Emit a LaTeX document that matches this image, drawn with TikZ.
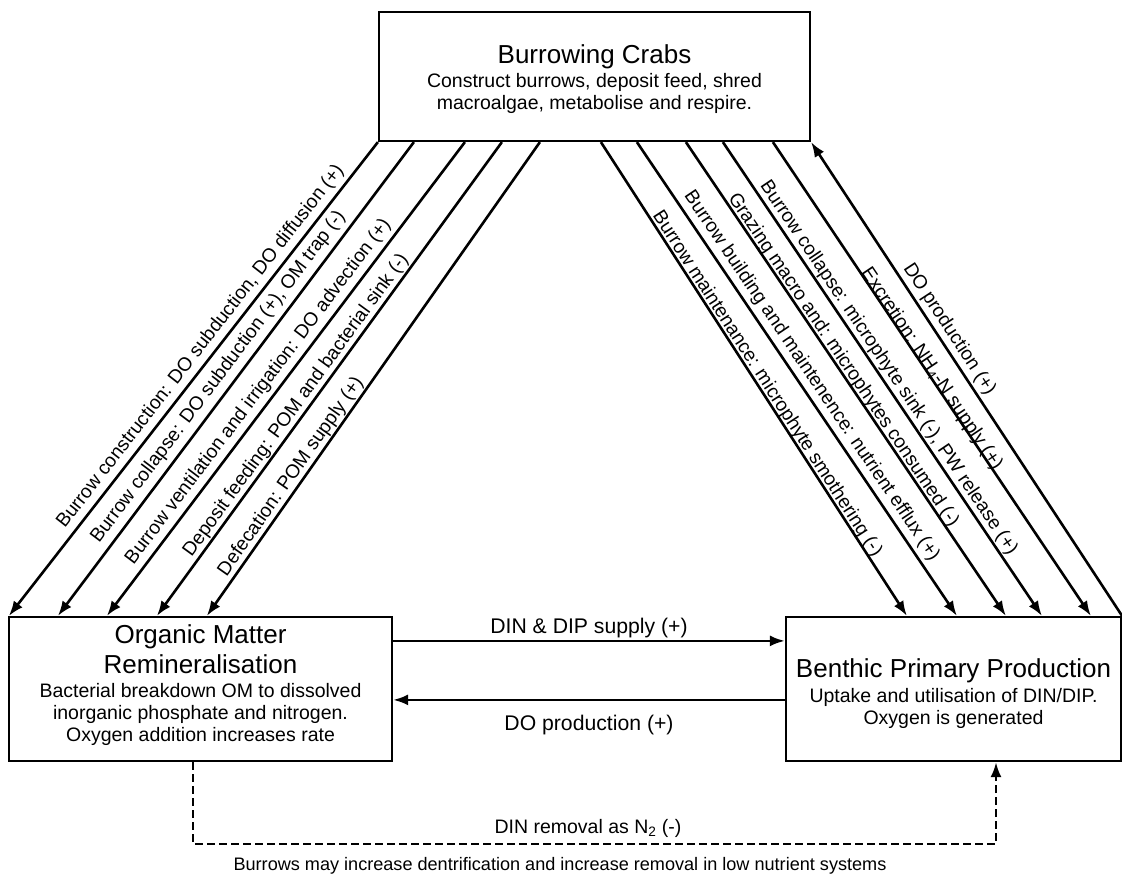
\documentclass[tikz,border=0pt]{standalone}
\usepackage{fontspec}
\setmainfont{Liberation Sans}
\usetikzlibrary{arrows.meta}

\newcommand{\boxtitle}{\fontsize{26}{30}\selectfont\spaceskip=\fontdimen2\font\relax}
\newcommand{\boxtext}{\fontsize{19.5}{22}\selectfont\spaceskip=\fontdimen2\font\relax}
\newcommand{\lblsize}{\fontsize{19.2}{23}\selectfont}
\newcommand{\hlblsize}{\fontsize{21.2}{25}\selectfont}
\newcommand{\notesize}{\fontsize{18.1}{22}\selectfont}

\begin{document}
\begin{tikzpicture}[x=1pt,y=-1pt,>={Latex[length=15pt,width=11pt]},
    box/.style={draw,line width=2.2pt,inner sep=0pt,align=center,text height=20pt},
    flow/.style={->,line width=2.6pt},
    lbl/.style={font=\lblsize,inner sep=1pt}]
  \useasboundingbox (0,0) rectangle (1122,874);
  % the three compartments
  \node[box,minimum width=431pt,minimum height=129pt,text width=425pt,text depth=45pt] (crabs) at (594.5,76.5)
    {{\boxtitle Burrowing Crabs\par}\vspace{2pt}
     {\boxtext Construct burrows, deposit feed, shred\\macroalgae, metabolise and respire.\par}};
  \node[box,minimum width=383pt,minimum height=144pt,text width=377pt,text depth=112pt] (om) at (200.5,689)
    {{\boxtitle Organic Matter\\Remineralisation\par}\vspace{2pt}
     {\boxtext Bacterial breakdown OM to dissolved\\inorganic phosphate and nitrogen.\\Oxygen addition increases rate\par}};
  \node[box,minimum width=335pt,minimum height=144pt,text width=333pt,text depth=44pt] (bpp) at (953.5,689)
    {{\boxtitle Benthic Primary Production\par}\vspace{3pt}
     {\boxtext Uptake and utilisation of DIN/DIP.\\Oxygen is generated\par}};

  % crabs acting on the organic matter
  \foreach \s/\e/\p/\d/\t in {
      0/1/0.45/3pt/{Burrow construction: DO subduction, DO diffusion (+)},
      36/50/0.515/4pt/{Burrow collapse: DO subduction (+), OM trap (-)},
      87/99/0.545/3pt/{Burrow ventilation and irrigation: DO advection (+)},
      124/149/0.57/0pt/{Deposit feeding: POM and bacterial sink (-)},
      162/199/0.72/0pt/{Defecation: POM supply (+)}}
    \draw[flow] ([xshift=\s pt]crabs.south west) -- ([xshift=\e pt]om.north west)
      node[lbl,sloped,pos=\p,above=\d] {\t};

  % crabs acting on the primary producers
  \foreach \s/\e/\p/\d/\t in {
      223/122/0.52/-3pt/{Burrow maintenance: microphyte smothering (-)},
      259/172/0.51/2.5pt/{Burrow building and maintenence: nutrient efflux (+)},
      308/221/0.47/-3pt/{Grazing macro and: microphytes consumed (-)},
      345/257/0.49/0pt/{Burrow collapse: microphyte sink (-), PW release (+)},
      395/306/0.485/-6pt/{Excretion: NH\textsubscript{4}-N supply (+)}}
    \draw[flow] ([xshift=\s pt]crabs.south west) -- ([xshift=\e pt]bpp.north west)
      node[lbl,sloped,pos=\p,above=\d] {\t};
  \draw[flow] (bpp.north east) -- (crabs.south east)
    node[lbl,sloped,pos=0.59,above=1.5pt] {DO production (+)};

  % exchange between the two lower boxes
  \draw[flow] ([yshift=-25pt]om.north east) -- ([yshift=-25pt]bpp.north west)
    node[lbl,font=\hlblsize,midway,above=1pt] {DIN \& DIP supply (+)};
  \draw[flow] ([yshift=-84pt]bpp.north west) -- ([yshift=-84pt]om.north east)
    node[lbl,font=\hlblsize,midway,below=13pt] {DO production (+)};

  % denitrification loop
  \draw[flow,dash pattern=on 8pt off 4pt] ([xshift=-7.5pt]om.south) -- ++(0,82) -| ([xshift=42.5pt]bpp.south);
  \node[lbl,font=\boxtext] (removal) at (588,828) {DIN removal as N\textsubscript{2} (-)};
  \node[lbl,font=\notesize] (note) at (560,866) {Burrows may increase dentrification and increase removal in low nutrient systems};
\end{tikzpicture}
\end{document}
